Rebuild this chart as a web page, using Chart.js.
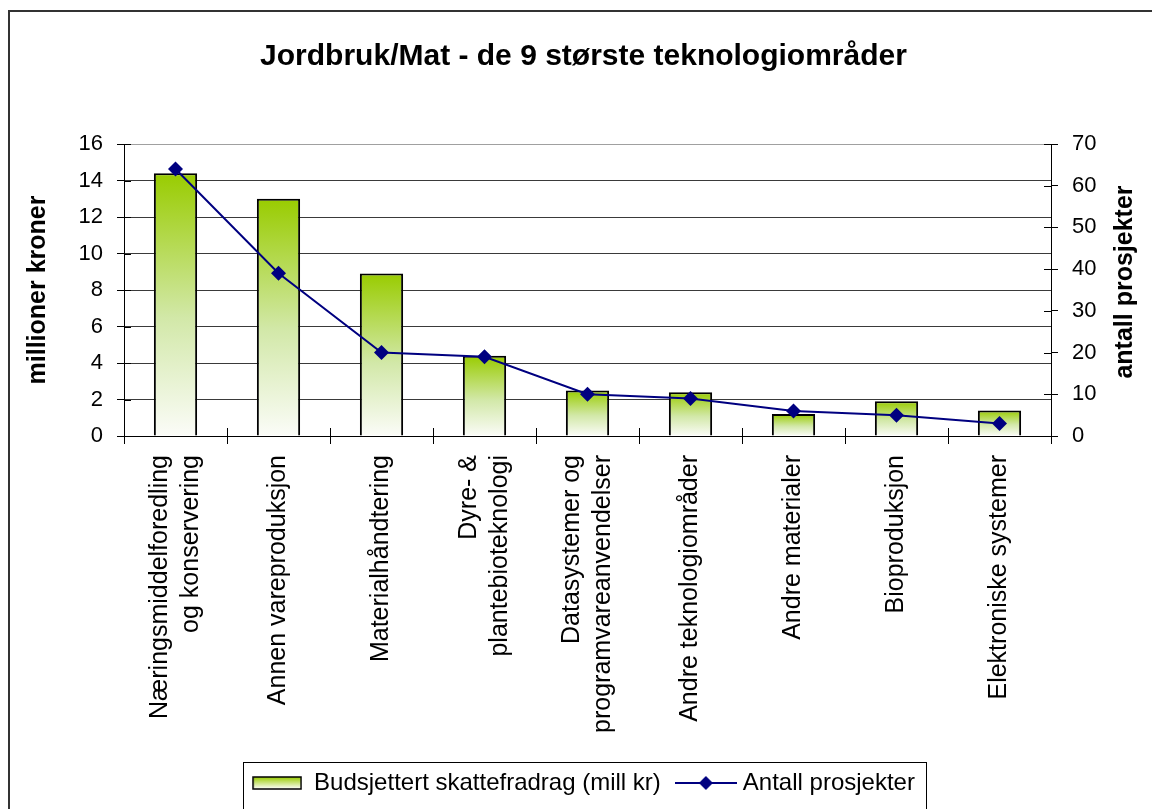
<!DOCTYPE html>
<html lang="no">
<head>
<meta charset="utf-8">
<title>Jordbruk/Mat - de 9 største teknologiområder</title>
<script src="https://cdn.jsdelivr.net/npm/chart.js@4/dist/chart.umd.min.js"></script>
<style>
  html, body { margin: 0; padding: 0; background: #fff; overflow: hidden; }
  #frame {
    position: absolute; left: 8px; top: 10px; width: 1200px; height: 900px;
    border-left: 2px solid #333; border-top: 2px solid #333;
  }
  #wrap { position: absolute; left: 0; top: 0; width: 1152px; height: 809px; }
</style>
</head>
<body>
<div id="frame"></div>
<div id="wrap"><canvas id="chart"></canvas></div>
<script>
const categories = [
  ["Næringsmiddelforedling", "og konservering"],
  "Annen vareproduksjon",
  "Materialhåndtering",
  ["Dyre- &", "plantebioteknologi"],
  ["Datasystemer og", "programvareanvendelser"],
  "Andre teknologiområder",
  "Andre materialer",
  "Bioproduksjon",
  "Elektroniske systemer",
];
const budget = [14.4, 13.0, 8.9, 4.4, 2.5, 2.4, 1.2, 1.9, 1.4];
const projects = [64, 39, 20, 19, 10, 9, 6, 5, 3];
const leftTicks = [0, 2, 4, 6, 8, 10, 12, 14, 16];
const rightTicks = [0, 10, 20, 30, 40, 50, 60, 70];

const FONT = "'Liberation Sans', Arial, sans-serif";
const GREEN = "#99cc00";
const NAVY = "#000080";

// legend icons
function makeBarIcon() {
  const c = document.createElement("canvas");
  c.width = 50;
  c.height = 14;
  const g = c.getContext("2d");
  const grad = g.createLinearGradient(0, 1, 0, 13);
  grad.addColorStop(0, GREEN);
  grad.addColorStop(1, "#ffffff");
  g.fillStyle = grad;
  g.fillRect(1, 1, 48, 12);
  g.strokeStyle = "#000";
  g.lineWidth = 1.5;
  g.strokeRect(1, 1, 48, 12);
  return c;
}

function makeLineIcon() {
  const c = document.createElement("canvas");
  c.width = 62;
  c.height = 16;
  const g = c.getContext("2d");
  g.strokeStyle = NAVY;
  g.lineWidth = 2;
  g.beginPath();
  g.moveTo(0, 8);
  g.lineTo(62, 8);
  g.stroke();
  g.fillStyle = NAVY;
  g.beginPath();
  g.moveTo(31, 1);
  g.lineTo(38, 8);
  g.lineTo(31, 15);
  g.lineTo(24, 8);
  g.closePath();
  g.fill();
  return c;
}

const barIcon = makeBarIcon();
const lineIcon = makeLineIcon();

function barGradient(context) {
  const chart = context.chart;
  const { chartArea, scales } = chart;
  if (!chartArea || context.type !== "data") return GREEN;
  const top = scales.y.getPixelForValue(context.raw);
  const bottom = scales.y.getPixelForValue(0);
  const grad = chart.ctx.createLinearGradient(0, top, 0, bottom);
  grad.addColorStop(0, GREEN);
  grad.addColorStop(0.55, "#d2e8a8");
  grad.addColorStop(1, "#fbfcf8");
  return grad;
}

// inner halves of the cross tick marks, category labels, right axis title, legend frame
const extrasPlugin = {
  id: "extras",
  afterDraw(chart) {
    const { ctx, chartArea, scales, legend } = chart;
    ctx.save();
    ctx.strokeStyle = "#000";
    ctx.lineWidth = 1;
    ctx.beginPath();
    leftTicks.forEach((v) => {
      const y = Math.round(scales.y.getPixelForValue(v)) + 0.5;
      ctx.moveTo(chartArea.left, y);
      ctx.lineTo(chartArea.left + 7, y);
    });
    rightTicks.forEach((v) => {
      const y = Math.round(scales.y1.getPixelForValue(v)) + 0.5;
      ctx.moveTo(chartArea.right - 7, y);
      ctx.lineTo(chartArea.right, y);
    });
    for (let i = 0; i < categories.length - 1; i++) {
      const x =
        Math.round(
          (scales.x.getPixelForValue(i) + scales.x.getPixelForValue(i + 1)) / 2
        ) + 0.5;
      ctx.moveTo(x, chartArea.bottom - 8);
      ctx.lineTo(x, chartArea.bottom);
    }
    ctx.stroke();

    // category labels, read upwards, lines centred on the category
    ctx.fillStyle = "#000";
    ctx.font = "25px " + FONT;
    ctx.textAlign = "right";
    ctx.textBaseline = "middle";
    const lh = 31;
    categories.forEach((label, i) => {
      const lines = Array.isArray(label) ? label : [label];
      const x0 = scales.x.getPixelForValue(i) - ((lines.length - 1) * lh) / 2;
      lines.forEach((line, j) => {
        ctx.setTransform(1, 0, 0, 1, 0, 0);
        ctx.translate(x0 + j * lh, chartArea.bottom + 19);
        ctx.rotate(-Math.PI / 2);
        ctx.fillText(line, 0, 0);
      });
    });
    ctx.setTransform(1, 0, 0, 1, 0, 0);

    ctx.translate(1125, 282);
    ctx.rotate(-Math.PI / 2);
    ctx.font = "bold 25px " + FONT;
    ctx.textAlign = "center";
    ctx.fillText("antall prosjekter", 0, 0);
    ctx.setTransform(1, 0, 0, 1, 0, 0);

    const boxes = legend.legendHitBoxes;
    if (boxes && boxes.length) {
      const last = boxes[boxes.length - 1];
      const left = Math.round(boxes[0].left - 9) + 0.5;
      const right = Math.round(last.left + last.width + 11) + 0.5;
      ctx.strokeStyle = "#000";
      ctx.lineWidth = 1;
      ctx.strokeRect(left, 762.5, right - left, 60);
    }
    ctx.restore();
  },
};

let mainChart;
function initializeChart() {
  const ctx = document.getElementById("chart");
  if (!ctx) return;

  mainChart = new Chart(ctx, {
    data: {
      labels: categories,
      datasets: [
        {
          type: "line",
          label: "Antall prosjekter",
          data: projects,
          yAxisID: "y1",
          order: 1,
          borderColor: NAVY,
          backgroundColor: NAVY,
          borderWidth: 2,
          tension: 0,
          pointStyle: "rectRot",
          pointRadius: 7.5,
          pointBackgroundColor: NAVY,
          pointBorderColor: NAVY,
          pointBorderWidth: 0,
        },
        {
          type: "bar",
          label: "Budsjettert skattefradrag (mill kr)",
          data: budget,
          yAxisID: "y",
          order: 2,
          backgroundColor: barGradient,
          borderColor: "#000",
          borderWidth: 2,
          categoryPercentage: 1,
          barPercentage: 0.42,
        },
      ],
    },
    options: {
      responsive: true,
      maintainAspectRatio: false,
      animation: false,
      layout: { padding: { left: 15, right: 0, top: 0, bottom: 4 } },
      plugins: {
        title: {
          display: true,
          text: "Jordbruk/Mat - de 9 største teknologiområder",
          color: "#000",
          font: { family: FONT, size: 30, weight: "bold", lineHeight: 1.2 },
          padding: { top: 39, bottom: 69 },
        },
        legend: {
          display: true,
          position: "bottom",
          reverse: true,
          labels: {
            color: "#000",
            font: { family: FONT, size: 24 },
            padding: 20,
            usePointStyle: true,
            pointStyleWidth: 50,
            generateLabels: (chart) => {
              const items =
                Chart.defaults.plugins.legend.labels.generateLabels(chart);
              items.forEach((item) => {
                item.pointStyle = item.datasetIndex === 1 ? barIcon : lineIcon;
              });
              return items;
            },
          },
        },
        tooltip: { enabled: false },
      },
      scales: {
        x: {
          type: "category",
          afterFit: (scale) => {
            scale.height = 315;
          },
          grid: {
            offset: true,
            drawOnChartArea: false,
            color: "#000",
            tickLength: 8,
          },
          border: { color: "#000", width: 1 },
          ticks: { display: false, autoSkip: false },
        },
        y: {
          position: "left",
          min: 0,
          max: 16,
          afterFit: (scale) => {
            scale.width = 109;
          },
          afterBuildTicks: (scale) => {
            scale.ticks = leftTicks.map((v) => ({ value: v }));
          },
          grid: {
            color: (c) => (c.tick && c.tick.value === 16 ? "#a0a0a0" : "#3a3a3a"),
            tickColor: "#000",
            tickLength: 7,
          },
          border: { color: "#000", width: 1 },
          ticks: {
            padding: 14,
            color: "#000",
            font: { family: FONT, size: 22 },
          },
          title: {
            display: true,
            text: "millioner kroner",
            color: "#000",
            font: { family: FONT, size: 25, weight: "bold", lineHeight: 1.2 },
            padding: { top: 8, bottom: 0 },
          },
        },
        y1: {
          position: "right",
          min: 0,
          max: 70,
          afterFit: (scale) => {
            scale.width = 101;
          },
          afterBuildTicks: (scale) => {
            scale.ticks = rightTicks.map((v) => ({ value: v }));
          },
          grid: {
            drawOnChartArea: false,
            color: "#000",
            tickLength: 7,
          },
          border: { color: "#000", width: 1 },
          ticks: {
            padding: 14,
            color: "#000",
            font: { family: FONT, size: 22 },
          },
        },
      },
    },
    plugins: [extrasPlugin],
  });
}

document.addEventListener("DOMContentLoaded", () => {
  initializeChart();
});
</script>
</body>
</html>
